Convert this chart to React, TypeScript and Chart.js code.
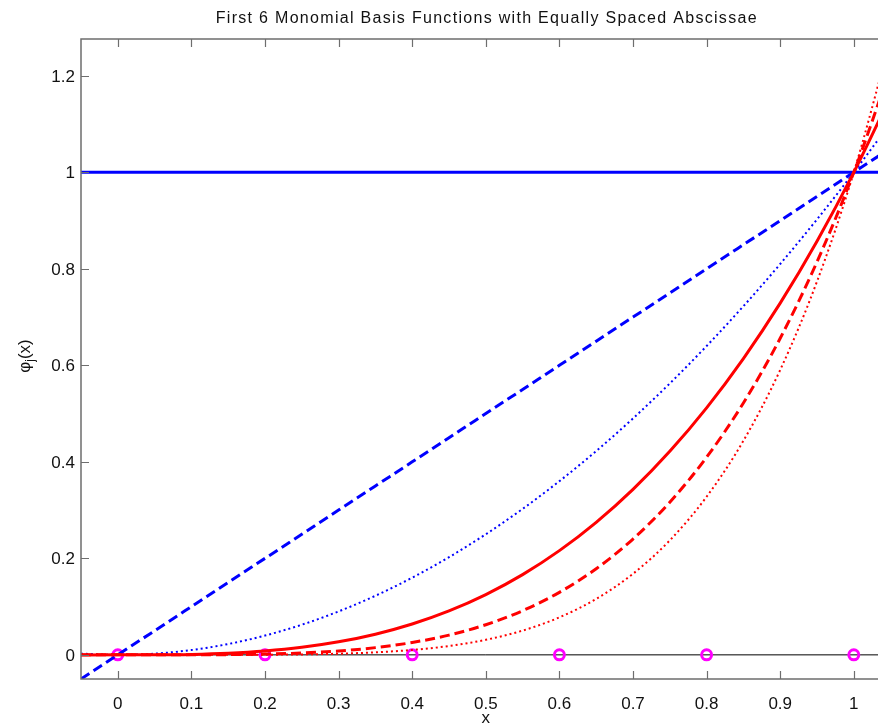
import React, { useEffect, useRef } from 'react';
import { Chart, registerables } from 'chart.js';

Chart.register(...registerables);

const TITLE = 'First 6 Monomial Basis Functions with Equally Spaced Abscissae';
const X_LABEL = 'x';

const xSamples = [-0.05, 0, 0.05, 0.1, 0.15, 0.2, 0.25, 0.3, 0.35, 0.4, 0.45, 0.5, 0.55, 0.6, 0.65, 0.7, 0.75, 0.8, 0.85, 0.9, 0.95, 1, 1.05];
const phi0 = [1, 1, 1, 1, 1, 1, 1, 1, 1, 1, 1, 1, 1, 1, 1, 1, 1, 1, 1, 1, 1, 1, 1];
const phi1 = [-0.05, 0, 0.05, 0.1, 0.15, 0.2, 0.25, 0.3, 0.35, 0.4, 0.45, 0.5, 0.55, 0.6, 0.65, 0.7, 0.75, 0.8, 0.85, 0.9, 0.95, 1, 1.05];
const phi2 = [0.0025, 0, 0.0025, 0.01, 0.0225, 0.04, 0.0625, 0.09, 0.1225, 0.16, 0.2025, 0.25, 0.3025, 0.36, 0.4225, 0.49, 0.5625, 0.64, 0.7225, 0.81, 0.9025, 1, 1.1025];
const phi3 = [-0.000125, 0, 0.000125, 0.001, 0.003375, 0.008, 0.015625, 0.027, 0.042875, 0.064, 0.091125, 0.125, 0.166375, 0.216, 0.274625, 0.343, 0.421875, 0.512, 0.614125, 0.729, 0.857375, 1, 1.157625];
const phi4 = [0.00000625, 0, 0.00000625, 0.0001, 0.00050625, 0.0016, 0.00390625, 0.0081, 0.01500625, 0.0256, 0.04100625, 0.0625, 0.09150625, 0.1296, 0.17850625, 0.2401, 0.31640625, 0.4096, 0.52200625, 0.6561, 0.81450625, 1, 1.21550625];
const phi5 = [-0.0000003, 0, 0.0000003, 0.00001, 0.0000759, 0.00032, 0.000977, 0.00243, 0.00525, 0.01024, 0.01845, 0.03125, 0.05033, 0.07776, 0.11603, 0.16807, 0.2373, 0.32768, 0.44371, 0.59049, 0.77378, 1, 1.27628];

const nodeX = [0, 0.2, 0.4, 0.6, 0.8, 1];
const nodeY = [0, 0, 0, 0, 0, 0];

const zeroLineX = [-0.05, 1.05];
const zeroLineY = [0, 0];

const xTicks = [0, 0.1, 0.2, 0.3, 0.4, 0.5, 0.6, 0.7, 0.8, 0.9, 1];
const xTickLabels = ['0', '0.1', '0.2', '0.3', '0.4', '0.5', '0.6', '0.7', '0.8', '0.9', '1'];
const yTicks = [0, 0.2, 0.4, 0.6, 0.8, 1, 1.2];
const yTickLabels = ['0', '0.2', '0.4', '0.6', '0.8', '1', '1.2'];

const FONT = '"Liberation Sans", Arial, Helvetica, sans-serif';

const zip = (xs: number[], ys: number[]) => xs.map((x, i) => ({ x, y: ys[i] }));

const framePlugin = {
  id: 'matlabFrame',
  afterDatasetsDraw(chart: any) {
    const ctx: any = chart.ctx;
    const { left, right, top, bottom } = chart.chartArea;
    const sx = chart.scales.x;
    const sy = chart.scales.y;
    ctx.save();
    ctx.strokeStyle = '#6e6e6e';
    ctx.lineWidth = 1.5;
    ctx.beginPath();
    ctx.moveTo(left, top);
    ctx.lineTo(right, top);
    ctx.lineTo(right, bottom);
    ctx.lineTo(left, bottom);
    ctx.closePath();
    ctx.stroke();
    const tl = 8;
    ctx.lineWidth = 1.2;
    ctx.beginPath();
    xTicks.forEach((v) => {
      const px = Math.round(sx.getPixelForValue(v)) + 0.5;
      ctx.moveTo(px, bottom);
      ctx.lineTo(px, bottom - tl);
      ctx.moveTo(px, top);
      ctx.lineTo(px, top + tl);
    });
    yTicks.forEach((v) => {
      const py = Math.round(sy.getPixelForValue(v)) + 0.5;
      ctx.moveTo(left, py);
      ctx.lineTo(left + tl, py);
      ctx.moveTo(right, py);
      ctx.lineTo(right - tl, py);
    });
    ctx.stroke();

    ctx.fillStyle = '#111';
    ctx.font = `17px ${FONT}`;
    ctx.textAlign = 'center';
    ctx.textBaseline = 'middle';
    xTicks.forEach((v, i) => {
      ctx.fillText(xTickLabels[i], sx.getPixelForValue(v), 704);
    });
    ctx.textAlign = 'right';
    yTicks.forEach((v, i) => {
      ctx.fillText(yTickLabels[i], left - 6, sy.getPixelForValue(v) + 1);
    });

    // title
    ctx.textAlign = 'center';
    ctx.font = `16px ${FONT}`;
    ctx.letterSpacing = '1.3px';
    ctx.fillText(TITLE, (left + right) / 2 + 1, 19);
    ctx.letterSpacing = '0px';

    // x label
    ctx.font = `17px ${FONT}`;
    ctx.fillText(X_LABEL, (left + right) / 2, 718);

    // y label: phi_j(x), rotated
    ctx.save();
    ctx.translate(30, (top + bottom) / 2 - 3);
    ctx.rotate(-Math.PI / 2);
    ctx.textBaseline = 'alphabetic';
    ctx.textAlign = 'left';
    const a = 'φ';
    const b = 'j';
    const c = '(x)';
    ctx.font = `17px ${FONT}`;
    const wa = ctx.measureText(a).width;
    const wc = ctx.measureText(c).width;
    ctx.font = `12px ${FONT}`;
    const wb = ctx.measureText(b).width;
    const total = wa + wb + wc;
    let x0 = -total / 2;
    ctx.font = `17px ${FONT}`;
    ctx.fillText(a, x0, 0);
    x0 += wa;
    ctx.font = `12px ${FONT}`;
    ctx.fillText(b, x0, 4);
    x0 += wb;
    ctx.font = `17px ${FONT}`;
    ctx.fillText(c, x0, 0);
    ctx.restore();

    ctx.restore();
  },
};

export default function App() {
  const ref = useRef<HTMLCanvasElement | null>(null);
  useEffect(() => {
    if (!ref.current) return;
    const base = { pointRadius: 0, fill: false, cubicInterpolationMode: 'monotone' as const, borderJoinStyle: 'round' as const };
    const chart = new Chart(ref.current, {
      type: 'line',
      data: {
        datasets: [
          { ...base, label: 'zero', data: zip(zeroLineX, zeroLineY), borderColor: '#000', borderWidth: 1, order: 10 },
          {
            label: 'nodes',
            data: zip(nodeX, nodeY),
            showLine: false,
            pointRadius: 5,
            pointBorderWidth: 3,
            pointBorderColor: '#ff00ff',
            pointBackgroundColor: 'rgba(0,0,0,0)',
            borderColor: '#ff00ff',
            order: 9,
          },
          { ...base, label: 'phi0', data: zip(xSamples, phi0), borderColor: '#0000ff', borderWidth: 3, order: 6 },
          { ...base, label: 'phi1', data: zip(xSamples, phi1), borderColor: '#0000ff', borderWidth: 3, borderDash: [10, 5], order: 5 },
          { ...base, label: 'phi2', data: zip(xSamples, phi2), borderColor: '#0000ff', borderWidth: 2, borderDash: [2, 3], order: 4 },
          { ...base, label: 'phi3', data: zip(xSamples, phi3), borderColor: '#ff0000', borderWidth: 3, order: 3 },
          { ...base, label: 'phi4', data: zip(xSamples, phi4), borderColor: '#ff0000', borderWidth: 3, borderDash: [10, 5], order: 2 },
          { ...base, label: 'phi5', data: zip(xSamples, phi5), borderColor: '#ff0000', borderWidth: 2, borderDash: [2, 3], order: 1 },
        ],
      },
      options: {
        responsive: false,
        animation: false,
        devicePixelRatio: 1,
        layout: { padding: { left: 81, top: 39, right: 9.4, bottom: 47 } },
        scales: {
          x: { type: 'linear', min: -0.05, max: 1.05, display: false },
          y: { type: 'linear', min: -0.05, max: 1.2763, display: false },
        },
        plugins: { legend: { display: false }, tooltip: { enabled: false }, title: { display: false } },
        events: [],
      },
      plugins: [framePlugin],
    });
    return () => chart.destroy();
  }, []);
  return (
    <div style={{ position: 'fixed', left: 0, top: 0, width: 878, height: 726, overflow: 'hidden', background: '#fff' }}>
      <canvas ref={ref} width={900} height={726} style={{ display: 'block', width: 900, height: 726 }} />
    </div>
  );
}
